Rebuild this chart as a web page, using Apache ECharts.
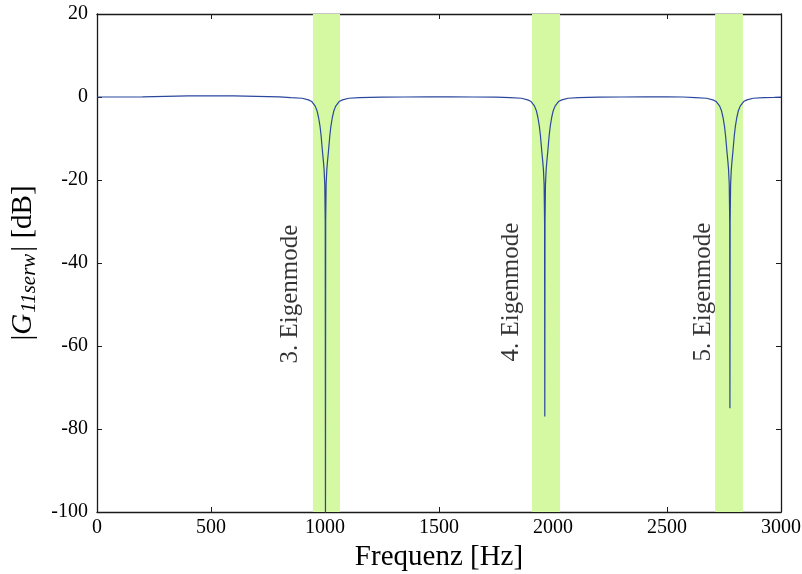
<!DOCTYPE html>
<html>
<head>
<meta charset="utf-8">
<script src="https://cdn.jsdelivr.net/npm/echarts@6/dist/echarts.min.js"></script>
<style>html,body{margin:0;padding:0;background:#fff}#c{width:802px;height:574px}</style>
</head>
<body>
<div id="c"></div>
<script>
// Baseline and notch segments: [Hz], [dB]
const baseFreq1 = [0, 100, 200, 300, 400, 500, 600, 700, 800];
const baseGain1 = [0, 0, 0.05, 0.15, 0.25, 0.3, 0.25, 0.15, 0.05];
const dip1Freq = [850, 900, 927, 942, 957, 965, 972, 978, 983, 989, 993, 996, 999, 1001, 1002, 1003, 1005, 1008, 1011, 1015, 1021, 1026, 1032, 1039, 1047, 1062, 1077, 1104, 1150];
const dip1Gain = [-0.15, -0.3, -0.7, -1.1, -2.2, -3.3, -5.0, -7.0, -9.4, -13.2, -15.5, -17.5, -21, -30, -110, -30, -21, -17.5, -15.5, -13.2, -9.4, -7.0, -5.0, -3.3, -2.2, -1.1, -0.7, -0.3, -0.15];
const baseFreq2 = [1250, 1350, 1450, 1550, 1650, 1750];
const baseGain2 = [-0.05, 0, 0.05, 0.05, 0, -0.05];
const dip2Freq = [1812, 1862, 1889, 1904, 1919, 1927, 1934, 1940, 1945, 1951, 1955, 1958, 1961, 1963, 1964, 1965, 1967, 1970, 1973, 1977, 1983, 1988, 1994, 2001, 2009, 2024, 2039, 2066, 2112];
const dip2Gain = [-0.15, -0.3, -0.7, -1.1, -2.2, -3.3, -5.0, -7.0, -9.4, -13.2, -15.5, -17.5, -21, -30, -77, -30, -21, -17.5, -15.5, -13.2, -9.4, -7.0, -5.0, -3.3, -2.2, -1.1, -0.7, -0.3, -0.15];
const baseFreq3 = [2200, 2300, 2400, 2500, 2570];
const baseGain3 = [-0.05, 0, 0.05, 0.05, 0];
const dip3Freq = [2624, 2674, 2701, 2716, 2731, 2739, 2746, 2752, 2757, 2763, 2767, 2770, 2773, 2775, 2776, 2777, 2779, 2782, 2785, 2789, 2795, 2800, 2806, 2813, 2821, 2836, 2851, 2878, 2924, 2970, 3000];
const dip3Gain = [-0.15, -0.3, -0.7, -1.1, -2.2, -3.3, -5.0, -7.0, -9.4, -13.2, -15.5, -17.5, -21, -30, -75, -30, -21, -17.5, -15.5, -13.2, -9.4, -7.0, -5.0, -3.3, -2.2, -1.1, -0.7, -0.3, -0.15, -0.1, -0.05];

const bandStart = [947, 1908, 2711];
const bandEnd = [1066, 2031, 2833];
const labelText = ['3. Eigenmode', '4. Eigenmode', '5. Eigenmode'];
const labelFreq = [849, 1818, 2660];
const labelGain = [-47.5, -47, -47];

const xTicks = { min: 0, max: 3000, interval: 500 };
const yTicks = { min: -100, max: 20, interval: 20 };

const freqs = [].concat(baseFreq1, dip1Freq, baseFreq2, dip2Freq, baseFreq3, dip3Freq);
const gains = [].concat(baseGain1, dip1Gain, baseGain2, dip2Gain, baseGain3, dip3Gain);
const lineData = freqs.map((f, i) => [f, gains[i]]);

const FONT = 'Liberation Serif';
const axisLineStyle = { color: '#1a1a1a', width: 1.3 };
const tick = { show: true, inside: true, length: 5, lineStyle: { color: '#1a1a1a', width: 1 } };
const plain = v => String(v);

const chart = echarts.init(document.getElementById('c'), null, { renderer: 'canvas' });
chart.setOption({
  animation: false,
  backgroundColor: '#fff',
  grid: { left: 97, right: 21, top: 14, bottom: 62, containLabel: false, outerBoundsMode: 'none' },
  xAxis: [{
    type: 'value', position: 'bottom', min: xTicks.min, max: xTicks.max, interval: xTicks.interval,
    axisLine: { show: true, onZero: false, lineStyle: axisLineStyle },
    axisTick: tick, splitLine: { show: false },
    axisLabel: { fontFamily: FONT, fontSize: 20, color: '#000', margin: 6, formatter: plain },
    name: 'Frequenz [Hz]', nameLocation: 'middle', nameGap: 25,
    nameTextStyle: { fontFamily: FONT, fontSize: 29, color: '#000' }
  }, {
    type: 'value', position: 'top', min: xTicks.min, max: xTicks.max, interval: xTicks.interval,
    axisLine: { show: true, onZero: false, lineStyle: axisLineStyle },
    axisTick: tick, splitLine: { show: false }, axisLabel: { show: false }
  }],
  yAxis: [{
    type: 'value', position: 'left', min: yTicks.min, max: yTicks.max, interval: yTicks.interval,
    axisLine: { show: true, onZero: false, lineStyle: axisLineStyle },
    axisTick: tick, splitLine: { show: false },
    axisLabel: { fontFamily: FONT, fontSize: 20, color: '#000', margin: 9, formatter: plain },
    name: '{b||}{i|G}{s|11serw}{b|| [dB]}', nameLocation: 'middle', nameGap: 40, nameRotate: 90,
    nameTextStyle: {
      fontFamily: FONT, fontSize: 29, color: '#000',
      rich: {
        b: { fontFamily: FONT, fontSize: 29, color: '#000', lineHeight: 34, verticalAlign: 'middle' },
        i: { fontFamily: FONT, fontSize: 29, fontStyle: 'italic', color: '#000', lineHeight: 34, verticalAlign: 'middle' },
        s: { fontFamily: FONT, fontSize: 21, fontStyle: 'italic', color: '#000', lineHeight: 20, verticalAlign: 'bottom', padding: [0, 2, 0, 1] }
      }
    }
  }, {
    type: 'value', position: 'right', min: yTicks.min, max: yTicks.max, interval: yTicks.interval,
    axisLine: { show: true, onZero: false, lineStyle: axisLineStyle },
    axisTick: tick, splitLine: { show: false }, axisLabel: { show: false }
  }],
  series: [{
    type: 'line', xAxisIndex: 0, yAxisIndex: 0, data: [], z: 1, silent: true,
    markArea: {
      silent: true,
      itemStyle: { color: '#d4f9a2', opacity: 1 },
      data: bandStart.map((s, i) => [{ xAxis: s }, { xAxis: bandEnd[i] }])
    }
  }, {
    type: 'line', xAxisIndex: 0, yAxisIndex: 0, data: lineData, z: 3,
    showSymbol: false, symbol: 'none', smooth: false, clip: true,
    lineStyle: { color: '#2b479e', width: 1.2 }
  }, {
    type: 'scatter', xAxisIndex: 0, yAxisIndex: 0, z: 4, symbolSize: 0,
    data: labelFreq.map((f, i) => [f, labelGain[i], labelText[i]]),
    label: {
      show: true, position: 'inside', rotate: 90, align: 'center', verticalAlign: 'middle',
      fontFamily: FONT, fontSize: 25, color: '#000',
      formatter: p => p.data[2]
    }
  }]
});
</script>
</body>
</html>
